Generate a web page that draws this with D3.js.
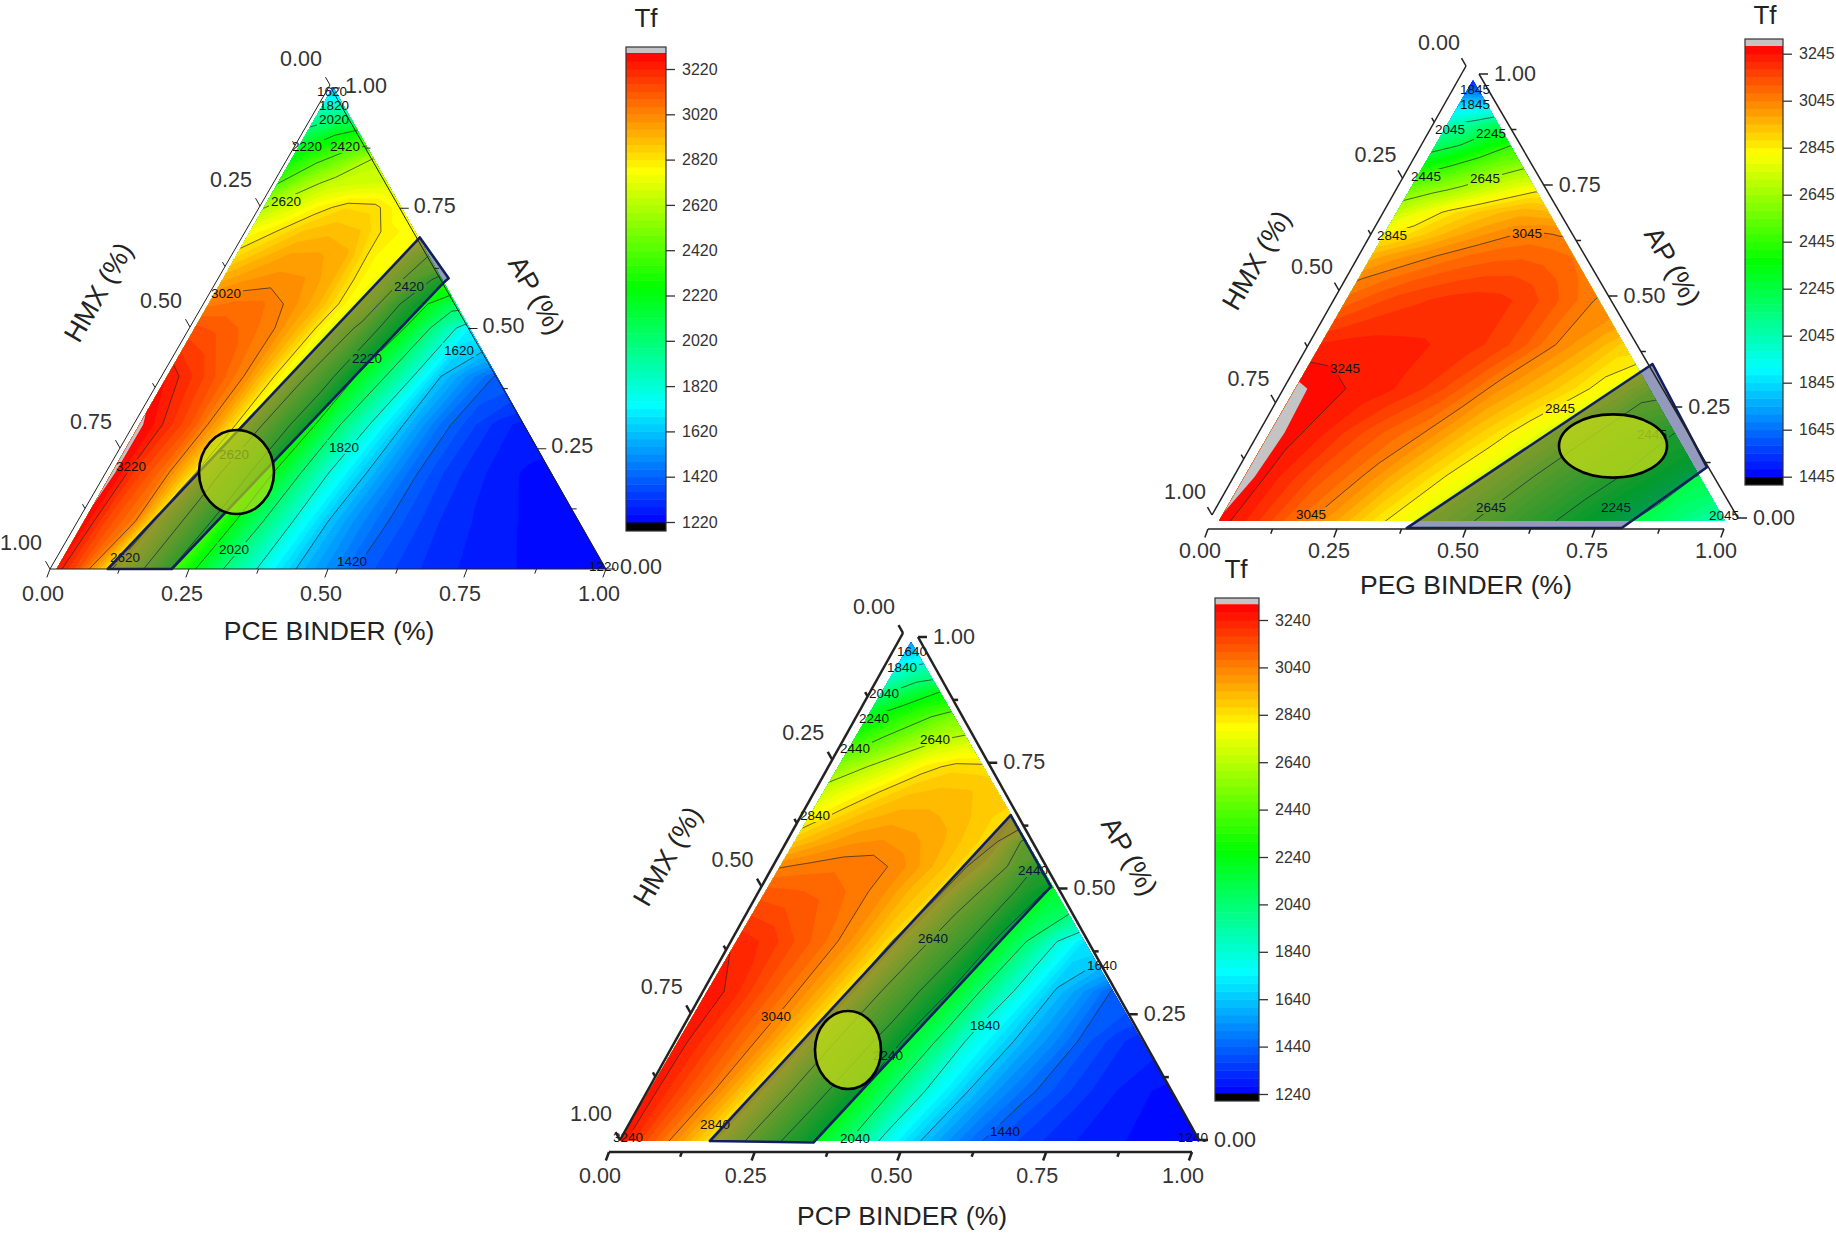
<!DOCTYPE html>
<html>
<head>
<meta charset="utf-8">
<script src="https://cdn.jsdelivr.net/npm/d3@7"></script>
<style>
html,body{margin:0;padding:0;background:#fff}
svg{display:block}
text{font-family:"Liberation Sans",Arial,sans-serif}
</style>
</head>
<body>
<svg id="chart" width="1836" height="1233" viewBox="0 0 1836 1233"></svg>
<script>
// Mass fraction of AP for each table row; binder fraction steps by 0.05 along a row.
const apRows = [0, .1, .2, .3, .4, .5, .55, .6, .65, .7, .75, .8, .85, .9, .95, 1];
const binderStep = 0.05;
const majorTicks = [0, .25, .5, .75, 1];
const minorTicks = [.125, .375, .625, .875];

// Flame temperature Tf per AP row, from binder = 0 up to the right edge of the triangle.
const pceTf = [
  [3290,3130,2860,2690,2500,2270,2060,1890,1730,1600,1510,1420,1370,1330,1300,1280,1265,1250,1240,1230,1220],
  [3315,3150,3040,2740,2580,2380,2140,1960,1770,1620,1510,1430,1370,1320,1290,1270,1250,1235,1225],
  [3340,3180,3070,2870,2640,2460,2220,2020,1820,1665,1540,1435,1360,1310,1275,1250,1235],
  [3320,3220,3120,2960,2740,2540,2340,2100,1900,1720,1570,1450,1370,1310,1270],
  [3260,3190,3110,3010,2820,2650,2460,2200,2020,1820,1620,1510,1410],
  [3130,3110,3075,3020,2900,2730,2600,2360,2150,1930,1720],
  [3040,3060,3060,3010,2930,2790,2680,2420,2220,2060],
  [2940,2985,3000,2990,2930,2795,2710,2550,2340],
  [2840,2910,2960,2960,2930,2790,2760,2620],
  [2760,2820,2890,2910,2890,2800,2770],
  [2610,2700,2790,2850,2840,2760],
  [2410,2570,2660,2680,2690],
  [2270,2390,2500,2630],
  [2080,2210,2320],
  [1900,1950],
  [1580]
];
const pegTf = [
  [3270,3215,3150,3080,3020,2955,2880,2820,2760,2705,2650,2590,2525,2465,2400,2335,2265,2205,2145,2085,2030],
  [3310,3230,3180,3125,3080,3025,2960,2900,2840,2785,2730,2670,2610,2550,2490,2435,2380,2310,2230],
  [3310,3255,3220,3175,3130,3090,3050,2990,2930,2875,2815,2760,2700,2640,2570,2510,2445],
  [3290,3265,3245,3230,3210,3180,3140,3085,3020,2975,2930,2880,2825,2770,2680],
  [3215,3225,3225,3220,3215,3205,3190,3165,3120,3060,3010,2960,2900],
  [3090,3130,3160,3175,3190,3195,3190,3170,3130,3085,3035],
  [3040,3070,3100,3125,3140,3150,3150,3135,3105,3065],
  [2960,3000,3030,3060,3085,3100,3105,3095,3075],
  [2840,2880,2930,2975,3010,3040,3055,3040],
  [2720,2790,2860,2905,2940,2965,2950],
  [2580,2625,2670,2730,2790,2835],
  [2390,2460,2530,2590,2640],
  [2190,2255,2350,2450],
  [2030,2090,2200],
  [1800,1810],
  [1500]
];
const pcpTf = [
  [3270,3130,3000,2855,2690,2530,2370,2190,2020,1825,1680,1570,1475,1405,1360,1325,1300,1280,1265,1250,1240],
  [3265,3170,3070,2940,2790,2625,2470,2295,2110,1920,1765,1640,1540,1460,1400,1350,1310,1280,1260],
  [3265,3190,3100,3010,2880,2710,2550,2400,2175,2020,1820,1700,1595,1510,1420,1360,1310],
  [3275,3215,3130,3050,2950,2820,2640,2500,2310,2115,1930,1770,1635,1540,1430],
  [3230,3200,3140,3080,3000,2890,2750,2580,2440,2210,2040,1850,1700],
  [3120,3110,3100,3065,3020,2930,2860,2690,2560,2360,2170],
  [3035,3055,3065,3065,3030,2960,2880,2790,2610,2400],
  [2900,2960,3000,3010,2985,2950,2890,2840,2590],
  [2790,2870,2930,2955,2950,2930,2890,2840],
  [2690,2770,2845,2900,2915,2910,2885],
  [2560,2640,2720,2815,2860,2855],
  [2370,2470,2570,2650,2700],
  [2230,2330,2420,2520],
  [2000,2130,2240],
  [1790,1900],
  [1550]
];

// Axis titles and contour annotations.
const binderNames = ["PCE BINDER (%)", "PEG BINDER (%)", "PCP BINDER (%)"];
const pceLabels = [["1620",332,91],["1820",334,105],["2020",334,119],["2220",307,146],["2420",345,146],["2620",286,201],["3020",226,293],["2420",409,286],["2220",367,358],["1620",459,350],["1820",344,447],["2620",234,454],["3220",131,466],["2020",234,549],["2620",125,557],["1420",352,561],["1220",604,566]];
const pegLabels = [["1845",1475,89],["1845",1475,104],["2045",1450,129],["2245",1491,133],["2445",1426,176],["2645",1485,178],["2845",1392,235],["3045",1527,233],["3245",1345,368],["2845",1560,408],["2445",1652,434],["2645",1491,507],["3045",1311,514],["2245",1616,507],["2045",1724,515]];
const pcpLabels = [["1640",912,651],["1840",902,667],["2040",884,693],["2240",874,718],["2440",855,748],["2640",935,739],["2840",815,815],["2440",1033,870],["2640",933,938],["1640",1102,965],["3040",776,1016],["1840",985,1025],["2240",888,1055],["2840",715,1124],["1440",1005,1131],["3240",628,1137],["2040",855,1138],["1240",1193,1137]];

// Optimal-composition regions as [binder, AP] corners.
const pceRegion = [[.104,0],[.219,0],[.406,.595],[.41,.603],[.315,.688]];
const pegRegion = [[.379,-.016],[.804,-.016],[.903,.122],[.678,.356]];
const pcpRegion = [[.155,0],[.335,-.003],[.487,.51],[.346,.653]];

const panels = [
  {
    table: pceTf, labels: pceLabels, region: pceRegion, name: binderNames[0],
    corners: {L:[50,569], R:[606,569], A:[333,87]}, leftInset: .012,
    axes: {bottom:[[50,569],[606,569]], left:[[50,569],[330,85]], right:[[606,569],[331,88]], width:1},
    off: {bottom:[-7,24], left:[-29,-27], right:[35,-3]},
    title:[329,630], hmx:[98,292], ap:[537,295], tf:[646,18],
    bar:{x:626, w:40, top:47, capTop:53, capBot:522, bot:531, tick0:69, perStep:45.3, first:3220, count:11, lo:1220, hi:3290},
    ell:[236.5,472,37.5,42], ellOpacity:.68
  },
  {
    table: pegTf, labels: pegLabels, region: pegRegion, name: binderNames[1],
    corners: {L:[1219,521], R:[1725,521], A:[1473,80]}, leftInset: 0,
    axes: {bottom:[[1208,529],[1724,529]], left:[[1212,515],[1466,66]], right:[[1738,518],[1479,74]], width:1.5},
    off: {bottom:[-8,21], left:[-27,-24], right:[36,-1]},
    title:[1466,584], hmx:[1256,260], ap:[1673,266], tf:[1765,15],
    bar:{x:1745, w:38, top:39, capTop:46, capBot:477, bot:485, tick0:53.7, perStep:47, first:3245, count:10, lo:1445, hi:3278},
    ell:[1613,446,54,31.6], ellOpacity:.82
  },
  {
    table: pcpTf, labels: pcpLabels, region: pcpRegion, name: binderNames[2],
    corners: {L:[620,1141], R:[1200,1141], A:[911,642]}, leftInset: 0,
    axes: {bottom:[[609,1152],[1192,1152]], left:[[620,1140],[903,633]], right:[[1199,1140],[918,637]], width:2.5},
    off: {bottom:[-9,23], left:[-29,-27], right:[36,-1]},
    title:[902,1215], hmx:[667,856], ap:[1130,856], tf:[1236,569],
    bar:{x:1215, w:44, top:598, capTop:604, capBot:1093, bot:1101, tick0:620, perStep:47.4, first:3240, count:11, lo:1240, hi:3300},
    ell:[848,1050,33,39], ellOpacity:.82
  }
];

const svg = d3.select("#chart");
const geoPath = d3.geoPath();
const rainbow = d3.scaleLinear()
  .domain([0, .25, .5, .75, 1])
  .range(["#0000ff", "#00ffff", "#00ff00", "#ffff00", "#ff0000"])
  .interpolate(d3.interpolateRgb);

panels.forEach((p, idx) => {
  const g = svg.append("g");
  const {L, R, A} = p.corners;
  const bx = d3.scaleLinear().domain([0, 1]).range([L[0], R[0]]);
  const skew = d3.scaleLinear().domain([0, 1]).range([0, A[0] - L[0]]);
  const ay = d3.scaleLinear().domain([0, 1]).range([L[1], A[1]]);
  const project = (b, a) => [bx(b) + skew(a), ay(a)];

  // Rectangular grid for the contour tracer: rows are padded past the triangle edge and clipped later.
  const nCols = p.table[0].length;
  const nRows = p.table.length;
  const flat = [];
  p.table.forEach(row => {
    for (let i = 0; i < nCols; i++) flat.push(row[Math.min(i, row.length - 1)]);
  });
  const rowToAp = d3.scaleLinear().domain(d3.range(nRows)).range(apRows);
  const gridPoint = ([x, y]) => project((x - .5) * binderStep, rowToAp(y - .5));
  const toScreen = c => ({
    type: "MultiPolygon",
    coordinates: c.coordinates.map(poly => poly.map(ring => ring.map(gridPoint)))
  });
  const contours = d3.contours().size([nCols, nRows]);

  const clipId = "fill-clip-" + idx;
  const clipPts = [project(p.leftInset, 0), project(1, 0), project(0, 1)];
  g.append("clipPath").attr("id", clipId)
    .append("polygon").attr("points", clipPts.join(" "));

  // Colour bands: one step is a sixth of the labelled 200 interval.
  const bandStep = 200 / 6;
  const color = v => rainbow((v - p.bar.lo) / (p.bar.hi - p.bar.lo));
  const bandEdges = [];
  for (let v = p.bar.first - (p.bar.count - 1) * 200; v < p.bar.hi; v += bandStep) bandEdges.push(v);

  const field = g.append("g").attr("clip-path", `url(#${clipId})`);
  field.append("polygon").attr("points", clipPts.join(" ")).attr("fill", color(p.bar.lo));
  field.selectAll("path.band").data(bandEdges).join("path").attr("class", "band")
    .attr("d", v => geoPath(toScreen(contours.contour(flat, v))))
    .attr("fill", v => color(v + bandStep / 2))
    .attr("stroke", v => color(v + bandStep / 2)).attr("stroke-width", .4);
  field.append("path")
    .attr("d", geoPath(toScreen(contours.contour(flat, p.bar.hi))))
    .attr("fill", "#c4c4c4");

  // Contour lines every 200, opened up around their numeric labels.
  const maskId = "label-gap-" + idx;
  const mask = g.append("mask").attr("id", maskId).attr("maskUnits", "userSpaceOnUse")
    .attr("x", 0).attr("y", 0).attr("width", 1836).attr("height", 1233);
  mask.append("rect").attr("width", 1836).attr("height", 1233).attr("fill", "#fff");
  mask.selectAll("rect.gap").data(p.labels).join("rect").attr("class", "gap")
    .attr("x", d => d[1] - 17).attr("y", d => d[2] - 7).attr("width", 34).attr("height", 14).attr("fill", "#000");
  const lineLevels = d3.range(p.bar.count).map(i => p.bar.first - i * 200);
  field.append("g").attr("mask", `url(#${maskId})`)
    .selectAll("path").data(lineLevels).join("path")
    .attr("d", v => geoPath(toScreen(contours.contour(flat, v))))
    .attr("fill", "none").attr("stroke", "#2b2b2b").attr("stroke-width", .9).attr("stroke-opacity", .8);

  g.selectAll("text.clabel").data(p.labels).join("text").attr("class", "clabel")
    .attr("x", d => d[1]).attr("y", d => d[2]).attr("dy", ".35em")
    .attr("text-anchor", "middle").attr("font-size", 13.5).attr("fill", "#111")
    .text(d => d[0]);

  // Highlighted composition window and its target ellipse.
  g.append("polygon")
    .attr("points", p.region.map(d => project(d[0], d[1])).join(" "))
    .attr("fill", "rgb(10,25,100)").attr("fill-opacity", .44)
    .attr("stroke", "#10205e").attr("stroke-width", 2.6).attr("stroke-linejoin", "round");
  g.append("ellipse")
    .attr("cx", p.ell[0]).attr("cy", p.ell[1]).attr("rx", p.ell[2]).attr("ry", p.ell[3])
    .attr("fill", "rgb(185,215,25)").attr("fill-opacity", p.ellOpacity)
    .attr("stroke", "#000").attr("stroke-width", 2.6);

  // Ternary axes.
  const axisG = g.append("g").attr("stroke", "#222").attr("stroke-width", p.axes.width).attr("fill", "none");
  const along = ends => t => [
    d3.scaleLinear().domain([0, 1]).range([ends[0][0], ends[1][0]])(t),
    d3.scaleLinear().domain([0, 1]).range([ends[0][1], ends[1][1]])(t)
  ];
  const onBottom = along(p.axes.bottom);
  const onRight = along(p.axes.right);
  // HMX runs from 1 at the lower left corner to 0 at the apex.
  const onLeft = t => along(p.axes.left)(1 - t);

  const drawAxis = (pos, dir, offset, ends) => {
    axisG.append("line")
      .attr("x1", ends[0][0]).attr("y1", ends[0][1]).attr("x2", ends[1][0]).attr("y2", ends[1][1]);
    const tick = (t, len) => {
      const [x, y] = pos(t);
      axisG.append("line").attr("x1", x).attr("y1", y)
        .attr("x2", x + dir[0] * len).attr("y2", y + dir[1] * len);
    };
    majorTicks.forEach(t => tick(t, 9));
    minorTicks.forEach(t => tick(t, 5));
    g.selectAll(null).data(majorTicks).join("text")
      .attr("x", t => pos(t)[0] + offset[0]).attr("y", t => pos(t)[1] + offset[1]).attr("dy", ".36em")
      .attr("text-anchor", "middle").attr("font-size", 21.5).attr("fill", "#333")
      .text(d3.format(".2f"));
  };
  drawAxis(onBottom, [-.35, .94], p.off.bottom, p.axes.bottom);
  drawAxis(onLeft, [-.5, -.87], p.off.left, p.axes.left);
  drawAxis(onRight, [1, 0], p.off.right, p.axes.right);

  const title = (pos, rot, txt, size) => g.append("text")
    .attr("transform", `translate(${pos[0]},${pos[1]}) rotate(${rot})`)
    .attr("dy", ".36em").attr("text-anchor", "middle").attr("font-size", size).attr("fill", "#222")
    .text(txt);
  title(p.title, 0, p.name, 26.5);
  title(p.hmx, -60, "HMX (%)", 27);
  title(p.ap, 60, "AP (%)", 27);
  title(p.tf, 0, "Tf", 26);

  // Colour scale bar with over- and under-range caps.
  const b = p.bar;
  const barY = d3.scaleLinear().domain([b.first, b.first - 200]).range([b.tick0, b.tick0 + b.perStep]);
  const barG = g.append("g");
  barG.append("rect").attr("x", b.x).attr("y", b.top).attr("width", b.w).attr("height", b.capTop - b.top).attr("fill", "#c4c4c4");
  barG.append("rect").attr("x", b.x).attr("y", b.capBot).attr("width", b.w).attr("height", b.bot - b.capBot).attr("fill", "#000");
  barG.selectAll("rect.step").data(bandEdges).join("rect").attr("class", "step")
    .attr("x", b.x).attr("width", b.w)
    .attr("y", v => Math.max(b.capTop, barY(v + bandStep)))
    .attr("height", v => Math.max(0, Math.min(b.capBot, barY(v)) - Math.max(b.capTop, barY(v + bandStep))) + .5)
    .attr("fill", v => color(v + bandStep / 2));
  barG.append("rect").attr("x", b.x).attr("y", b.top).attr("width", b.w).attr("height", b.bot - b.top)
    .attr("fill", "none").attr("stroke", "#333").attr("stroke-width", 1.2);
  const barAxis = d3.axisRight(barY).tickValues(lineLevels).tickFormat(d3.format("d")).tickSize(9).tickPadding(7);
  const ba = barG.append("g").attr("transform", `translate(${b.x + b.w},0)`).call(barAxis);
  ba.select(".domain").remove();
  ba.selectAll("line").attr("stroke", "#333").attr("stroke-width", 1.3);
  ba.selectAll("text").attr("font-size", 16).attr("fill", "#333").attr("font-family", "Liberation Sans");
});
</script>
</body>
</html>
